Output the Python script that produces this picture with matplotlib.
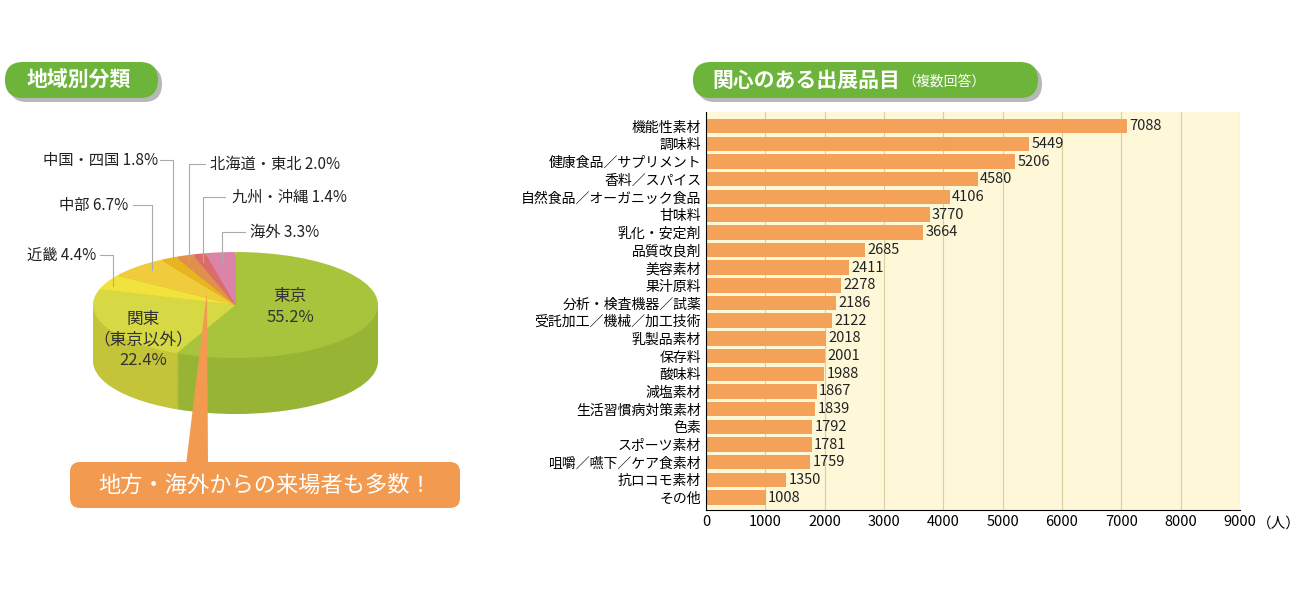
import matplotlib.pyplot as plt
from matplotlib.patches import FancyBboxPatch, Polygon

plt.rcParams['font.family'] = ['Noto Sans CJK JP', 'DejaVu Sans']

regions = ['東京', '関東', '近畿', '中部', '中国・四国', '北海道・東北', '九州・沖縄', '海外']
shares = [55.2, 22.4, 4.4, 6.7, 1.8, 2.0, 1.4, 3.3]
region_colors = ['#a8c43c', '#d6d844', '#f2e23c', '#f0cc3c', '#e8b420', '#e0904a', '#dc6c6c', '#dc84a8']
wall_colors = ['#98b434', '#c4c43a', '#d8c834', '#d8b434', '#d0a01c', '#c87c40', '#c45c5c', '#c47094']

items = ['機能性素材', '調味料', '健康食品／サプリメント', '香料／スパイス', '自然食品／オーガニック食品',
         '甘味料', '乳化・安定剤', '品質改良剤', '美容素材', '果汁原料', '分析・検査機器／試薬',
         '受託加工／機械／加工技術', '乳製品素材', '保存料', '酸味料', '減塩素材', '生活習慣病対策素材',
         '色素', 'スポーツ素材', '咀嚼／嚥下／ケア食素材', '抗ロコモ素材', 'その他']
counts = [7088, 5449, 5206, 4580, 4106, 3770, 3664, 2685, 2411, 2278, 2186,
          2122, 2018, 2001, 1988, 1867, 1839, 1792, 1781, 1759, 1350, 1008]
xticks = [0, 1000, 2000, 3000, 4000, 5000, 6000, 7000, 8000, 9000]

W, H = 1300, 600
fig = plt.figure(figsize=(13, 6), dpi=100)

def rect(x0, y0, x1, y1):
    return [x0 / W, 1 - y1 / H, (x1 - x0) / W, (y1 - y0) / H]

# pie (squashed with side wall)
top, bot = 252, 414
ry_px = 53
pax = fig.add_axes(rect(93, top, 378, bot))
wall = (bot - top - 2 * ry_px) / ry_px
n = 25
for i in range(n + 1):
    dy = wall * (1 - i / n)
    cols = wall_colors if i < n else region_colors
    pax.pie(shares, colors=cols, startangle=90, counterclock=False, center=(0, -dy),
            wedgeprops=dict(linewidth=0))
pax.set_aspect('auto')
pax.set_xlim(-1, 1)
pax.set_ylim(-1 - wall, 1)
pax.axis('off')

# overlay
ov = fig.add_axes([0, 0, 1, 1])
ov.set_xlim(0, W)
ov.set_ylim(H, 0)
ov.axis('off')

def pill(x0, y0, x1, y1):
    ov.add_patch(FancyBboxPatch((x0 + 4, y0 + 4), x1 - x0, y1 - y0, boxstyle='round,pad=0,rounding_size=18',
                                fc='#b8b8b8', ec='none'))
    ov.add_patch(FancyBboxPatch((x0, y0), x1 - x0, y1 - y0, boxstyle='round,pad=0,rounding_size=18',
                                fc='#6cb43a', ec='none'))

pill(5, 62, 158, 98)
ov.text(27, 80, '地域別分類', color='white', fontsize=15, va='center', weight='bold')
pill(693, 62, 1038, 98)
ov.text(712, 80, '関心のある出展品目', color='white', fontsize=15, va='center', weight='bold')
ov.text(902, 82, '（複数回答）', color='white', fontsize=10, va='center')

labels = [
    ('中国・四国 1.8%', 158, 160, 'right', [(160, 160), (173, 160), (173, 258)]),
    ('北海道・東北 2.0%', 210, 164, 'left', [(205, 164), (189, 164), (189, 260)]),
    ('九州・沖縄 1.4%', 232, 197, 'left', [(225, 197), (203, 197), (203, 262)]),
    ('海外 3.3%', 250, 232, 'left', [(245, 232), (222, 232), (222, 262)]),
    ('中部 6.7%', 128, 205, 'right', [(133, 205), (152, 205), (152, 270)]),
    ('近畿 4.4%', 96, 255, 'right', [(100, 255), (113, 255), (113, 286)]),
]
for txt, x, y, ha, pts in labels:
    ov.text(x, y, txt, fontsize=11, ha=ha, va='center', color='#222222')
    ov.plot([p[0] for p in pts], [p[1] for p in pts], color='#aaaaaa', lw=0.8)

ov.text(290, 307, '東京\n55.2%', fontsize=12, ha='center', va='center', color='#333333', linespacing=1.3)
ov.text(143, 340, '関東\n（東京以外）\n22.4%', fontsize=12, ha='center', va='center', color='#333333',
        linespacing=1.3)

ov.add_patch(Polygon([(207, 292), (186, 465), (208, 465)], fc='#f19a50', ec='none'))
ov.add_patch(FancyBboxPatch((70, 462), 390, 46, boxstyle='round,pad=0,rounding_size=10',
                            fc='#f19a50', ec='none'))
ov.text(265, 485, '地方・海外からの来場者も多数！', color='white', fontsize=16, ha='center', va='center')

# bar chart
bax = fig.add_axes(rect(706, 112, 1240, 510))
bax.set_facecolor('#fff8d8')
y = list(range(len(items)))
bax.barh(y, counts, height=0.82, color='#f4a15a', zorder=2)
for yi, v in zip(y, counts):
    bax.text(v + 40, yi, str(v), va='center', ha='left', fontsize=10.5, color='#222222', zorder=3)
bax.set_yticks(y)
bax.set_yticklabels(items, fontsize=10)
bax.set_ylim(len(items) - 0.3, -0.8)
bax.set_xlim(0, 9000)
bax.set_xticks(xticks)
bax.set_xticklabels([str(t) for t in xticks], fontsize=10.5)
bax.grid(axis='x', color='#d8d0a0', lw=0.8, zorder=1)
for s in ['top', 'right']:
    bax.spines[s].set_visible(False)
bax.tick_params(length=0)
ov.text(1257, 524, '（人）', fontsize=10.5, ha='left', va='center')

ov.add_patch(FancyBboxPatch((955, 432), 283, 76, boxstyle='round,pad=0,rounding_size=10',
                            fc='#ec7412', ec='none', zorder=5))
ov.text(1096, 470, '「美味しさ」と「健康」の\n双方に幅広く関心！', color='white', fontsize=15,
        ha='center', va='center', linespacing=1.35, zorder=6)

fig.savefig('out.png', dpi=100)
